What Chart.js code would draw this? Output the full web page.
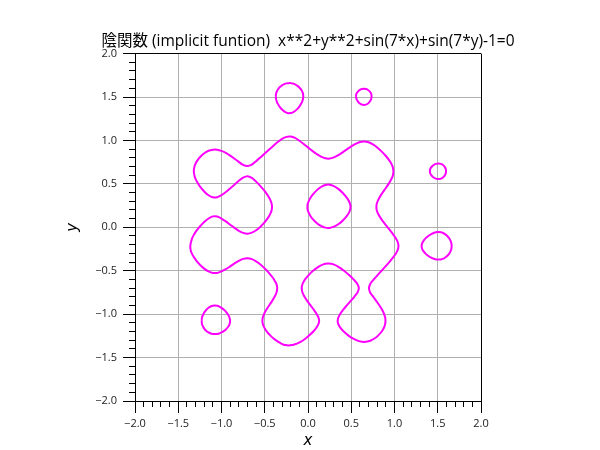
<!DOCTYPE html>
<html>
<head>
<meta charset="utf-8">
<title>陰関数</title>
<script src="https://cdn.jsdelivr.net/npm/chart.js@4.4.1/dist/chart.umd.min.js"></script>
<style>
  html, body { margin: 0; padding: 0; background: #fff; }
  canvas { display: block; }
</style>
</head>
<body>
<canvas id="grafico" width="600" height="450"></canvas>
<script>
// ====================================
// 陰関数 x**2+y**2+sin(7*x)+sin(7*y)-1=0
// ====================================

// TICKS
const majorTicks = [-2, -1.5, -1, -0.5, 0, 0.5, 1, 1.5, 2];
const minorTicks = [-2, -1.9, -1.8, -1.7, -1.6, -1.5, -1.4, -1.3, -1.2, -1.1, -1, -0.9, -0.8, -0.7, -0.6, -0.5, -0.4, -0.3, -0.2, -0.1, 0,
  0.1, 0.2, 0.3, 0.4, 0.5, 0.6, 0.7, 0.8, 0.9, 1, 1.1, 1.2, 1.3, 1.4, 1.5, 1.6, 1.7, 1.8, 1.9, 2];

// CURVA EXTERNA
const outerX = [
  0.988, 0.98, 0.97, 0.95, 0.90, 0.85, 0.80, 0.75, 0.70, 0.65, 0.60, 0.55, 0.50, 0.45, 0.40, 0.35, 0.30, 0.25, 0.20, 0.15, 0.10, 0.05, 0.00,
  -0.05, -0.10, -0.15, -0.20, -0.25, -0.30, -0.35, -0.40, -0.45, -0.50, -0.55, -0.60, -0.65, -0.70, -0.75, -0.80, -0.85, -0.90, -0.95,
  -1.00, -1.05, -1.10, -1.15, -1.20, -1.25, -1.28, -1.30, -1.31, -1.3205,
  -1.31, -1.30, -1.28, -1.25, -1.20, -1.15, -1.10, -1.05, -1.00, -0.95, -0.90, -0.85, -0.80, -0.75, -0.70, -0.65, -0.60, -0.55, -0.50,
  -0.45, -0.43, -0.42, -0.416,
  -0.42, -0.43, -0.45, -0.50, -0.55, -0.60, -0.65, -0.70, -0.75, -0.80, -0.85, -0.90, -0.95, -1.00, -1.05, -1.10, -1.15, -1.20, -1.25,
  -1.28, -1.30, -1.32, -1.34, -1.35, -1.355, -1.361,
  -1.355, -1.35, -1.34, -1.32, -1.30, -1.28, -1.25, -1.20, -1.15, -1.10, -1.05, -1.00, -0.95, -0.90, -0.85, -0.80, -0.75, -0.70, -0.65,
  -0.60, -0.55, -0.50, -0.45, -0.40, -0.38, -0.37, -0.36, -0.356,
  -0.364, -0.386, -0.416, -0.450, -0.482, -0.508, -0.525, -0.525, -0.508, -0.476, -0.431, -0.398, -0.371, -0.342, -0.306, -0.287, -0.270, -0.224,
  -0.178, -0.161, -0.128, -0.087, -0.055, -0.028, 0.009, 0.061, 0.101, 0.126, 0.125, 0.101, 0.068, 0.030, -0.007, -0.040, -0.064, -0.073,
  -0.062, -0.034, 0.007, 0.059, 0.129, 0.169, 0.200, 0.235,
  0.270, 0.302, 0.343, 0.416, 0.475, 0.526, 0.569, 0.588, 0.572, 0.535, 0.491, 0.448, 0.406, 0.370, 0.347, 0.345, 0.369, 0.413, 0.472,
  0.518, 0.558, 0.584, 0.647,
  0.710, 0.733, 0.768, 0.807, 0.852, 0.881, 0.894, 0.894, 0.880, 0.857, 0.826, 0.790, 0.754, 0.718, 0.705, 0.721, 0.761, 0.805, 0.850,
  0.896, 0.940, 0.982, 1.018, 1.041, 1.045, 1.029, 0.997, 0.960, 0.920, 0.880, 0.844, 0.813, 0.794, 0.791, 0.805, 0.830, 0.863, 0.898,
  0.932, 0.961, 0.982, 0.988
];
const outerY = [
  0.647, 0.693, 0.718, 0.756, 0.821, 0.874, 0.919, 0.954, 0.979, 0.988, 0.982, 0.961, 0.932, 0.898, 0.863, 0.830, 0.805, 0.791, 0.794, 0.813, 0.844, 0.880, 0.920,
  0.960, 0.997, 1.029, 1.045, 1.041, 1.018, 0.982, 0.940, 0.896, 0.850, 0.805, 0.761, 0.721, 0.705, 0.718, 0.754, 0.790, 0.826, 0.857,
  0.880, 0.894, 0.894, 0.881, 0.852, 0.807, 0.768, 0.733, 0.710, 0.647,
  0.584, 0.558, 0.518, 0.472, 0.413, 0.369, 0.345, 0.347, 0.370, 0.406, 0.448, 0.491, 0.535, 0.572, 0.588, 0.569, 0.526, 0.475, 0.416,
  0.343, 0.302, 0.270, 0.235,
  0.200, 0.169, 0.129, 0.059, 0.007, -0.034, -0.062, -0.073, -0.064, -0.040, -0.007, 0.030, 0.068, 0.101, 0.125, 0.126, 0.101, 0.061, 0.009,
  -0.028, -0.055, -0.087, -0.128, -0.161, -0.178, -0.224,
  -0.270, -0.287, -0.306, -0.342, -0.371, -0.398, -0.431, -0.476, -0.508, -0.525, -0.525, -0.508, -0.482, -0.450, -0.416, -0.386, -0.364, -0.356, -0.366,
  -0.392, -0.429, -0.474, -0.527, -0.590, -0.625, -0.641, -0.671, -0.700,
  -0.75, -0.80, -0.85, -0.90, -0.95, -1.00, -1.05, -1.10, -1.15, -1.20, -1.25, -1.28, -1.30, -1.32, -1.34, -1.35, -1.355, -1.361,
  -1.355, -1.35, -1.34, -1.32, -1.30, -1.28, -1.25, -1.20, -1.15, -1.10, -1.05, -1.00, -0.95, -0.90, -0.85, -0.80, -0.75, -0.70,
  -0.65, -0.60, -0.55, -0.50, -0.45, -0.43, -0.42, -0.416,
  -0.42, -0.43, -0.45, -0.50, -0.55, -0.60, -0.65, -0.70, -0.75, -0.80, -0.85, -0.90, -0.95, -1.00, -1.05, -1.10, -1.15, -1.20, -1.25,
  -1.28, -1.30, -1.31, -1.3205,
  -1.31, -1.30, -1.28, -1.25, -1.20, -1.15, -1.10, -1.05, -1.00, -0.95, -0.90, -0.85, -0.80, -0.75, -0.70, -0.65, -0.60, -0.55, -0.50,
  -0.45, -0.40, -0.35, -0.30, -0.25, -0.20, -0.15, -0.10, -0.05, 0.00, 0.05, 0.10, 0.15, 0.20, 0.25, 0.30, 0.35, 0.40, 0.45,
  0.50, 0.55, 0.60, 0.647
];

// CURVA INTERNA
const innerX = [-0.0077, -0.005, 0.00, 0.025, 0.05, 0.10, 0.15, 0.20, 0.25, 0.30, 0.35, 0.40, 0.45, 0.47, 0.48, 0.49, 0.4918,
  0.49, 0.48, 0.47, 0.45, 0.40, 0.35, 0.30, 0.25, 0.20, 0.15, 0.10, 0.05, 0.025, 0.00, -0.005, -0.0077];
const innerY = [0.235, 0.261, 0.282, 0.333, 0.370, 0.425, 0.464, 0.487, 0.491, 0.475, 0.442, 0.398, 0.338, 0.307, 0.288, 0.253, 0.235,
  0.215, 0.182, 0.162, 0.132, 0.076, 0.035, 0.007, -0.007, -0.004, 0.016, 0.050, 0.100, 0.136, 0.187, 0.207, 0.235];

// LAÇO (-0.22, 1.5) e o espelho (1.5, -0.22)
const loopAX = [-0.3716, -0.37, -0.36, -0.35, -0.325, -0.30, -0.275, -0.25, -0.224, -0.20, -0.175, -0.15, -0.125, -0.10, -0.075, -0.065, -0.058, -0.0548,
  -0.058, -0.065, -0.075, -0.10, -0.125, -0.15, -0.175, -0.20, -0.224, -0.25, -0.275, -0.30, -0.325, -0.35, -0.36, -0.37, -0.3716];
const loopAY = [1.508, 1.535, 1.565, 1.584, 1.615, 1.635, 1.648, 1.657, 1.660, 1.660, 1.655, 1.646, 1.631, 1.610, 1.579, 1.559, 1.540, 1.508,
  1.477, 1.453, 1.430, 1.390, 1.361, 1.339, 1.324, 1.315, 1.314, 1.321, 1.335, 1.356, 1.384, 1.424, 1.445, 1.481, 1.508];
const loopDX = [1.508, 1.535, 1.565, 1.584, 1.615, 1.635, 1.648, 1.657, 1.660, 1.660, 1.655, 1.646, 1.631, 1.610, 1.579, 1.559, 1.540, 1.508,
  1.477, 1.453, 1.430, 1.390, 1.361, 1.339, 1.324, 1.315, 1.314, 1.321, 1.335, 1.356, 1.384, 1.424, 1.445, 1.481, 1.508];
const loopDY = [-0.3716, -0.37, -0.36, -0.35, -0.325, -0.30, -0.275, -0.25, -0.224, -0.20, -0.175, -0.15, -0.125, -0.10, -0.075, -0.065, -0.058, -0.0548,
  -0.058, -0.065, -0.075, -0.10, -0.125, -0.15, -0.175, -0.20, -0.224, -0.25, -0.275, -0.30, -0.325, -0.35, -0.36, -0.37, -0.3716];

// LAÇO (0.65, 1.5) e o espelho (1.5, 0.65)
const loopBX = [0.555, 0.56, 0.58, 0.60, 0.62, 0.647, 0.67, 0.69, 0.71, 0.72, 0.73, 0.735, 0.73, 0.72, 0.71, 0.69, 0.67, 0.647, 0.62, 0.60, 0.58, 0.56, 0.555];
const loopBY = [1.508, 1.538, 1.566, 1.583, 1.592, 1.596, 1.593, 1.584, 1.568, 1.556, 1.538, 1.508, 1.478, 1.456, 1.442, 1.423, 1.413, 1.409, 1.414, 1.425, 1.444, 1.478, 1.508];
const loopEX = [1.508, 1.538, 1.566, 1.583, 1.592, 1.596, 1.593, 1.584, 1.568, 1.556, 1.538, 1.508, 1.478, 1.456, 1.442, 1.423, 1.413, 1.409, 1.414, 1.425, 1.444, 1.478, 1.508];
const loopEY = [0.555, 0.56, 0.58, 0.60, 0.62, 0.647, 0.67, 0.69, 0.71, 0.72, 0.73, 0.735, 0.73, 0.72, 0.71, 0.69, 0.67, 0.647, 0.62, 0.60, 0.58, 0.56, 0.555];

// LAÇO (-1.08, -1.08)
const loopCX = [-1.229, -1.225, -1.20, -1.175, -1.15, -1.125, -1.10, -1.078, -1.05, -1.025, -1.00, -0.975, -0.95, -0.925, -0.91, -0.9004,
  -0.91, -0.925, -0.95, -0.975, -1.00, -1.025, -1.05, -1.078, -1.10, -1.125, -1.15, -1.175, -1.20, -1.225, -1.229];
const loopCY = [-1.078, -1.037, -0.981, -0.949, -0.926, -0.912, -0.903, -0.900, -0.904, -0.913, -0.927, -0.946, -0.970, -1.003, -1.033, -1.078,
  -1.123, -1.148, -1.176, -1.196, -1.211, -1.222, -1.228, -1.229, -1.229, -1.223, -1.211, -1.194, -1.167, -1.117, -1.078];

const curvas = [
  [outerX, outerY], [innerX, innerY],
  [loopAX, loopAY], [loopDX, loopDY],
  [loopBX, loopBY], [loopEX, loopEY],
  [loopCX, loopCY]
];

const fonte = "'Open Sans', 'Noto Sans CJK JP', sans-serif";
const menos = v => (v < 0 ? "\u2212" : "") + Math.abs(v).toFixed(1);

// eixo principal
function eixo(pos, extra) {
  return Object.assign({
    type: "linear",
    position: pos,
    weight: 1,
    min: -2,
    max: 2,
    afterBuildTicks: s => { s.ticks = majorTicks.map(v => ({ value: v })); },
    ticks: {
      callback: v => menos(v),
      font: { family: fonte, size: 11 },
      color: "#222",
      autoSkip: false,
      maxRotation: 0
    },
    grid: {
      color: c => (c.tick && Math.abs(c.tick.value) === 2) ? "#000" : "#b0b0b0",
      lineWidth: 1,
      tickColor: "#000",
      tickLength: 12,
      tickWidth: 1
    },
    border: { display: true, color: "#000", width: 1 }
  }, extra);
}

// eixo das marcas menores
function eixoMenor(pos, fit) {
  return {
    type: "linear",
    position: pos,
    weight: 0,
    min: -2,
    max: 2,
    afterBuildTicks: s => { s.ticks = minorTicks.map(v => ({ value: v })); },
    afterFit: fit,
    ticks: { display: false },
    grid: { drawOnChartArea: false, drawTicks: true, tickLength: 6, tickColor: "#000", tickWidth: 1 },
    border: { display: false }
  };
}

const xPrincipal = eixo("bottom", {
  afterFit: s => { s.height = 49; },
  title: { display: true, text: "x", font: { family: "'DejaVu Sans', sans-serif", size: 15, style: "italic" }, color: "#000", padding: { top: 0, bottom: 0 } }
});
xPrincipal.ticks.padding = 4;

const yPrincipal = eixo("left", {
  afterFit: s => { s.width = 119; },
  title: { display: true, text: "y", font: { family: "'DejaVu Sans', sans-serif", size: 15, style: "italic" }, color: "#000", padding: { top: 48, bottom: 0 } }
});
yPrincipal.ticks.padding = 6;

new Chart(document.getElementById("grafico"), {
  type: "scatter",
  data: {
    datasets: curvas.map(c => ({
      data: c[0].map((x, i) => ({ x: x, y: c[1][i] })),
      showLine: true,
      borderColor: "#ff00ff",
      borderWidth: 2,
      pointRadius: 0,
      fill: false,
      tension: 0.3,
      xAxisID: "x",
      yAxisID: "y"
    }))
  },
  options: {
    responsive: false,
    animation: false,
    devicePixelRatio: 1,
    layout: { padding: { left: 16, right: 0, top: 0, bottom: 0 } },
    plugins: {
      legend: { display: false },
      tooltip: { enabled: false },
      title: {
        display: true,
        fullSize: true,
        text: "陰関数 (implicit funtion)  x**2+y**2+sin(7*x)+sin(7*y)-1=0",
        font: { family: fonte, size: 15.5, weight: "normal" },
        color: "#000",
        padding: { top: 32, bottom: 3 }
      }
    },
    scales: {
      x: xPrincipal,
      xMenor: eixoMenor("bottom", s => { s.height = 0; }),
      y: yPrincipal,
      yMenor: eixoMenor("left", s => { s.width = 0; }),
      // margem direita vazia
      vazio: {
        type: "linear",
        position: "right",
        afterFit: s => { s.width = 119; },
        ticks: { display: false },
        grid: { display: false },
        border: { display: false }
      }
    }
  }
});
</script>
</body>
</html>
